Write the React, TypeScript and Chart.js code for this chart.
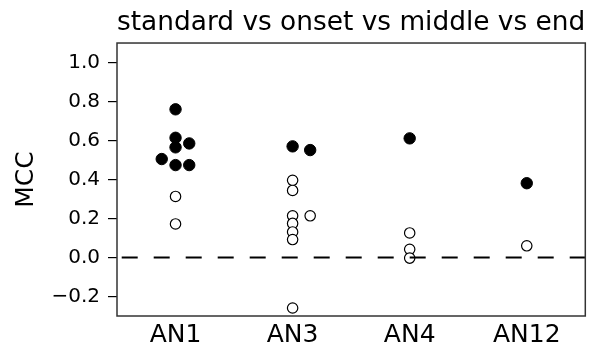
import { useEffect, useRef } from "react";
import { Chart, registerables } from "chart.js";

Chart.register(...registerables);

const categories = ["AN1", "AN3", "AN4", "AN12"];
const yTickValues = [-0.2, 0, 0.2, 0.4, 0.6, 0.8, 1.0];
const yMin = -0.3;
const yMax = 1.1;

// filled (black) markers: x = category index + small jitter
const filledX = [0, 0, 0, 0.117, -0.118, 0, 0.117, 1, 1.15, 2, 3];
const filledY = [0.76, 0.614, 0.565, 0.585, 0.505, 0.474, 0.474, 0.57, 0.551, 0.611, 0.381];

// open (white) markers
const openX = [0, 0, 1, 1, 1, 1, 1, 1, 1.15, 1, 2, 2, 2, 3];
const openY = [0.313, 0.172, 0.396, 0.344, 0.214, 0.175, 0.131, 0.092, 0.214, -0.259, 0.126, 0.042, -0.003, 0.06];

const baselineValue = 0;
const titleText = "standard vs onset vs middle vs end";
const yTitleText = "MCC";

const FONT = "'DejaVu Sans', sans-serif";

export default function App() {
  const ref = useRef<HTMLCanvasElement | null>(null);

  useEffect(() => {
    if (!ref.current) return;
    const xMin = -0.5;
    const xMax = categories.length - 0.5;

    const boxPlugin = {
      id: "box",
      afterDraw(chart: any) {
        const { ctx, chartArea } = chart;
        ctx.save();
        ctx.strokeStyle = "#333";
        ctx.lineWidth = 1.5;
        ctx.strokeRect(
          chartArea.left,
          chartArea.top,
          chartArea.right - chartArea.left,
          chartArea.bottom - chartArea.top
        );
        ctx.restore();
      },
    };

    const chart = new Chart(ref.current, {
      type: "scatter",
      data: {
        datasets: [
          {
            type: "line",
            data: [
              { x: xMin, y: baselineValue },
              { x: xMax, y: baselineValue },
            ],
            borderColor: "#000",
            borderWidth: 2,
            borderDash: [16, 16],
            borderDashOffset: -4.7,
            pointRadius: 0,
            fill: false,
          } as any,
          {
            data: openX.map((x, i) => ({ x, y: openY[i] })),
            backgroundColor: "#fff",
            borderColor: "#000",
            borderWidth: 1.2,
            pointRadius: 5.2,
            pointHoverRadius: 5.2,
          },
          {
            data: filledX.map((x, i) => ({ x, y: filledY[i] })),
            backgroundColor: "#000",
            borderColor: "#000",
            borderWidth: 1,
            pointRadius: 5.7,
            pointHoverRadius: 5.7,
          },
        ],
      },
      options: {
        responsive: false,
        animation: false,
        events: [],
        layout: { padding: { left: 0, right: 1, top: 0, bottom: 0 } },
        plugins: {
          legend: { display: false },
          tooltip: { enabled: false },
          title: {
            display: true,
            text: titleText,
            fullSize: false,
            color: "#000",
            font: { family: FONT, size: 26.6, weight: "normal", lineHeight: 1.2 },
            padding: { top: 7.5, bottom: 3.6 },
          },
        },
        scales: {
          x: {
            type: "linear",
            min: xMin,
            max: xMax,
            afterBuildTicks(scale: any) {
              scale.ticks = categories.map((_, i) => ({ value: i }));
            },
            afterFit(scale: any) {
              scale.height = 31;
            },
            grid: { display: false, drawTicks: false },
            border: { display: false },
            ticks: {
              color: "#000",
              padding: 4,
              maxRotation: 0,
              autoSkip: false,
              font: { family: FONT, size: 25 },
              callback: (v: any) => categories[Math.round(Number(v))] ?? "",
            },
          },
          y: {
            type: "linear",
            min: yMin,
            max: yMax,
            afterBuildTicks(scale: any) {
              scale.ticks = yTickValues.map((v) => ({ value: v }));
            },
            afterFit(scale: any) {
              scale.width = 117;
            },
            grid: {
              drawOnChartArea: false,
              drawTicks: true,
              tickLength: 9,
              color: "#000",
              lineWidth: 1.2,
            },
            border: { display: false },
            ticks: {
              color: "#000",
              padding: 8,
              font: { family: FONT, size: 20 },
              callback: (v: any) => Number(v).toFixed(1).replace("-", "\u2212"),
            },
            title: {
              display: true,
              text: yTitleText,
              color: "#000",
              font: { family: FONT, size: 25, lineHeight: 1.2 },
              padding: { top: 11, bottom: 0 },
            },
          },
        },
      },
      plugins: [boxPlugin],
    });

    return () => chart.destroy();
  }, []);

  return (
    <div style={{ position: "absolute", left: 0, top: 0, width: 592, height: 347, background: "#fff" }}>
      <canvas ref={ref} width={592} height={347} style={{ display: "block" }} />
    </div>
  );
}
